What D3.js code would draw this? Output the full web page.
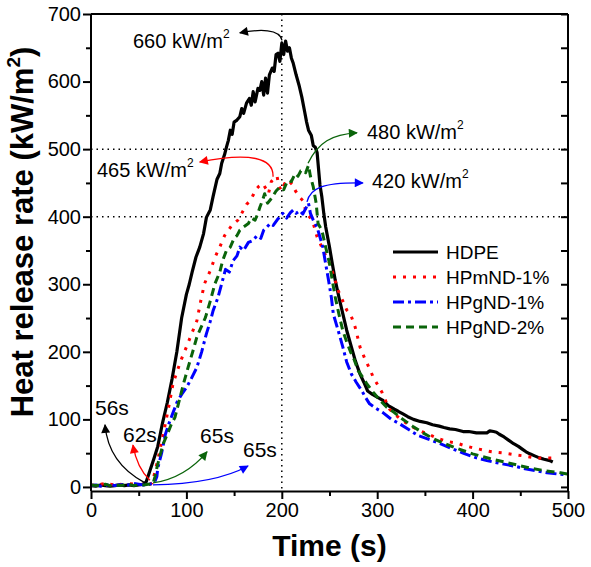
<!DOCTYPE html>
<html><head><meta charset="utf-8">
<script src="https://cdn.jsdelivr.net/npm/d3@7"></script>
<style>body{margin:0;background:#fff}svg{display:block}text{font-family:"Liberation Sans",Arial,sans-serif}</style>
</head><body><svg id="c" width="591" height="567"></svg>
<script>
// ---- data (time s, HRR kW/m2) ----
const hdpe = [[0,2],[5,1],[10,3],[15,2],[20,1],[25,2],[30,3],[35,2],[40,3],[45,2],[50,3],[54,4],[56,5],[58,8],[62,25],[66,42],[70,60],[75,95],[80,125],[85,160],[90,200],[95,250],[100,285],[103,300],[106,318],[110,340],[114,355],[118,375],[121,399],[125,410],[128,430],[132,455],[135,464],[137,479],[140,492],[142,503],[144,513],[146,528],[148,522],[150,540],[153,543],[156,548],[158,560],[160,553],[163,568],[166,575],[168,565],[170,585],[172,570],[175,590],[177,587],[179,600],[181,580],[183,605],[185,583],[187,610],[190,620],[192,615],[194,640],[196,642],[198,630],[200,657],[202,640],[204,660],[206,645],[208,650],[210,635],[212,627],[215,610],[218,595],[221,577],[224,555],[226,540],[228,528],[231,520],[233,505],[235,503],[237,495],[238,479],[240,447],[242,429],[244,405],[246,385],[250,355],[253,330],[256,306],[260,280],[264,256],[268,232],[273,207],[277,187],[282,167],[286,155],[290,142],[295,137],[300,133],[306,128],[312,120],[318,115],[322,112],[327,108],[332,104],[338,100],[345,97],[352,95],[358,92],[365,90],[370,88],[376,86],[382,85],[390,82],[396,82],[404,80],[410,80],[415,80],[418,83],[422,82],[425,81],[428,78],[433,74],[438,69],[443,64],[448,60],[452,56],[456,52],[460,49],[465,46],[470,43],[475,41],[481,39],[484,37]];
const hpmnd1 = [[0,3],[5,2],[10,4],[15,5],[18,6],[20,4],[25,3],[30,4],[35,3],[40,5],[45,4],[50,3],[55,4],[60,5],[62,4],[64,6],[67,22],[70,40],[72,53],[76,80],[80,108],[83,130],[86,153],[90,170],[95,190],[100,207],[105,225],[111,246],[115,275],[119,301],[125,320],[130,340],[135,355],[140,372],[144,380],[148,388],[154,395],[160,410],[163,418],[167,424],[170,432],[172,439],[176,445],[180,449],[184,440],[186,434],[189,452],[193,458],[195,460],[197,445],[200,438],[203,449],[206,445],[210,450],[214,439],[218,430],[222,424],[226,405],[230,398],[233,390],[237,370],[241,358],[245,345],[250,331],[255,310],[259,291],[264,275],[268,262],[272,256],[277,236],[282,207],[287,190],[292,175],[296,162],[301,150],[305,140],[309,127],[313,115],[318,108],[324,101],[330,95],[338,88],[345,83],[355,77],[365,71],[375,67],[383,65],[392,61],[400,58],[410,55],[420,52],[434,50],[443,48],[453,46],[462,44],[469,43],[478,43],[486,43]];
const hpgnd1 = [[0,2],[5,3],[10,1],[15,2],[20,4],[25,2],[30,3],[35,4],[40,3],[45,5],[50,4],[55,3],[60,4],[65,5],[67,8],[69,15],[70,28],[74,50],[78,78],[82,95],[86,110],[90,125],[95,137],[100,147],[105,160],[111,177],[116,200],[121,227],[125,245],[128,261],[133,280],[137,301],[141,322],[145,318],[149,335],[153,342],[156,355],[160,350],[165,362],[170,365],[174,372],[178,368],[181,380],[184,384],[188,390],[191,387],[195,395],[198,400],[201,405],[205,398],[209,406],[212,410],[215,405],[219,409],[222,404],[225,412],[228,420],[230,405],[233,395],[237,384],[240,370],[243,355],[246,330],[249,306],[252,280],[254,256],[259,232],[264,207],[268,185],[273,167],[278,155],[284,142],[288,132],[292,123],[299,116],[306,110],[315,100],[324,93],[333,85],[343,76],[355,70],[366,64],[378,57],[390,50],[404,43],[415,39],[428,35],[443,31],[455,27],[466,24],[478,21],[490,19],[500,18]];
const hpgnd2 = [[0,3],[5,2],[10,3],[15,4],[20,2],[25,3],[30,2],[35,3],[40,4],[45,2],[50,3],[55,3],[60,4],[63,4],[65,5],[67,15],[69,28],[72,45],[76,65],[80,78],[84,92],[88,103],[92,125],[97,153],[102,178],[107,202],[111,222],[115,235],[120,251],[125,275],[130,301],[135,318],[138,335],[142,350],[146,355],[150,368],[153,372],[156,380],[160,385],[165,390],[168,398],[172,395],[175,405],[177,414],[180,425],[182,434],[185,420],[188,425],[190,429],[194,438],[198,444],[202,440],[205,450],[207,454],[210,452],[214,464],[217,460],[220,468],[222,469],[225,465],[228,476],[230,460],[233,444],[236,420],[238,390],[242,380],[246,355],[250,331],[253,305],[256,281],[260,255],[264,231],[268,215],[272,200],[276,188],[280,172],[285,162],[289,153],[296,140],[303,128],[310,118],[318,110],[326,101],[337,90],[348,80],[358,72],[369,65],[384,57],[400,49],[418,42],[436,36],[448,32],[460,28],[476,24],[492,21],[500,19]];

const seriesNames = ["HDPE","HPmND-1%","HPgND-1%","HPgND-2%"];
const seriesData = [hdpe, hpmnd1, hpgnd1, hpgnd2];
const seriesColors = ["#000000","#ff0000","#0000ff","#0a640a"];
const seriesDash = [null,"3,7","11,4,3,4","8,5"];

const xTicks = [0,100,200,300,400,500];
const yTicks = [0,100,200,300,400,500,600,700];
const refY = [400,500];
const refX = [200];

// peak annotations: [label, textT, textV, color, path points (start, c1, c2, end)]
const peakNotes = [
  ["660 kW/m", 44, 650, "#000000", [[200.2,661],[198,678],[177,678],[156,672]]],
  ["465 kW/m", 6.3, 459, "#ff0000", [[190.8,459],[191.8,487],[166.7,496],[114,481]]],
  ["480 kW/m", 289.3, 515, "#0a640a", [[227.5,479],[238,510],[252.6,522],[278.8,524]]],
  ["420 kW/m", 294.5, 442.5, "#0000ff", [[226.4,422],[229.6,442],[242,451],[285,450]]]
];
// ignition annotations: [label, textT, textV, color, start, control, end]
const ignNotes = [
  ["56s", 4.2, 106.6, "#000000", [56.6,6],[18,35],[14.7,92]],
  ["62s", 33.5, 66.6, "#ff0000", [61.8,10],[48.2,28],[44,62]],
  ["65s", 114.3, 65, "#0a640a", [65,6],[98.5,13],[121.6,52]],
  ["65s", 159.3, 44.4, "#0000ff", [65,3],[130,4.4],[164.6,31]]
];

const svg = d3.select("#c");
const L=91, R=568, T=14, B=491;
const x = d3.scaleLinear().domain([0,500]).range([L,R]);
const y = d3.scaleLinear().domain([-6,700]).range([B,T]);

// reference dotted lines
svg.append("g").selectAll("line.h").data(refY).join("line")
  .attr("x1",L).attr("x2",R).attr("y1",d=>y(d)).attr("y2",d=>y(d))
  .attr("stroke","#000").attr("stroke-width",1.5).attr("stroke-dasharray","1.5,4");
svg.append("g").selectAll("line.v").data(refX).join("line")
  .attr("x1",d=>x(d)).attr("x2",d=>x(d)).attr("y1",T).attr("y2",B)
  .attr("stroke","#000").attr("stroke-width",1.5).attr("stroke-dasharray","1.5,4");

// markers
const defs = svg.append("defs");
const cols = Array.from(new Set(seriesColors));
cols.forEach((c,i)=>{
  defs.append("marker").attr("id","ah"+i).attr("viewBox","0 0 10 10").attr("refX",9).attr("refY",5)
    .attr("markerWidth",11).attr("markerHeight",9).attr("markerUnits","userSpaceOnUse").attr("orient","auto")
    .append("path").attr("d","M0,0L10,5L0,10z").attr("fill",c);
});
const mk = c => "url(#ah"+cols.indexOf(c)+")";

// series
const line = d3.line().x(d=>x(d[0])).y(d=>y(d[1]));
seriesData.forEach((d,i)=>{
  svg.append("path").datum(d).attr("d",line).attr("fill","none")
    .attr("stroke",seriesColors[i]).attr("stroke-width",i===0?3.2:3)
    .attr("stroke-linejoin","round")
    .attr("stroke-dasharray",seriesDash[i]);
});

// axes
function styleAxis(g){g.selectAll("path,line").attr("stroke","#000").attr("stroke-width",2);g.selectAll("text").attr("fill","#000").attr("font-family","Liberation Sans, Arial");}
const gL = svg.append("g").attr("transform",`translate(${L},0)`)
  .call(d3.axisLeft(y).tickValues(yTicks).tickSize(8).tickSizeOuter(0).tickPadding(2));
gL.select(".domain").attr("d",`M0,${B}V${T}`);
gL.selectAll("text").attr("font-size",20);
styleAxis(gL);
const gLm = svg.append("g").attr("transform",`translate(${L},0)`)
  .call(d3.axisLeft(y).tickValues(d3.range(50,700,100)).tickSize(5).tickFormat(""));
gLm.select(".domain").remove(); styleAxis(gLm);

const gB = svg.append("g").attr("transform",`translate(0,${B})`)
  .call(d3.axisBottom(x).tickValues(xTicks).tickSize(8).tickSizeOuter(0).tickPadding(4));
gB.selectAll("text").attr("font-size",20);
styleAxis(gB);
const gBm = svg.append("g").attr("transform",`translate(0,${B})`)
  .call(d3.axisBottom(x).tickValues(d3.range(50,500,100)).tickSize(5).tickFormat(""));
gBm.select(".domain").remove(); styleAxis(gBm);

const gR = svg.append("g").attr("transform",`translate(${R},0)`)
  .call(d3.axisLeft(y).tickValues(d3.range(0,701,50)).tickSize(7).tickSizeOuter(0).tickFormat(""));
gR.select(".domain").attr("d",`M0,${B}V${T}`); styleAxis(gR);
svg.append("line").attr("x1",L).attr("x2",R).attr("y1",T).attr("y2",T).attr("stroke","#000").attr("stroke-width",2);

// axis titles
svg.append("text").attr("x",(L+R)/2).attr("y",556).attr("text-anchor","middle")
  .attr("font-size",30).attr("font-weight","bold").text("Time (s)");
const yt = svg.append("text").attr("transform","translate(33,232) rotate(-90)").attr("text-anchor","middle")
  .attr("font-size",31).attr("font-weight","bold");
yt.append("tspan").text("Heat release rate (kW/m");
yt.append("tspan").attr("font-size",19).attr("dy",-13).text("2");
yt.append("tspan").attr("dy",13).text(")");

// peak annotations
peakNotes.forEach(n=>{
  const p = n[4];
  svg.append("path").attr("d",`M${x(p[0][0])},${y(p[0][1])}C${x(p[1][0])},${y(p[1][1])} ${x(p[2][0])},${y(p[2][1])} ${x(p[3][0])},${y(p[3][1])}`)
    .attr("fill","none").attr("stroke",n[3]).attr("stroke-width",1.3).attr("marker-end",mk(n[3]));
  const t = svg.append("text").attr("x",x(n[1])).attr("y",y(n[2])).attr("font-size",20).attr("fill","#000");
  t.append("tspan").text(n[0]);
  t.append("tspan").attr("font-size",12).attr("dy",-10).text("2");
});
// ignition annotations
ignNotes.forEach(n=>{
  svg.append("path").attr("d",`M${x(n[4][0])},${y(n[4][1])}Q${x(n[5][0])},${y(n[5][1])} ${x(n[6][0])},${y(n[6][1])}`)
    .attr("fill","none").attr("stroke",n[3]).attr("stroke-width",1.3).attr("marker-end",mk(n[3]));
  svg.append("text").attr("x",x(n[1])).attr("y",y(n[2])).attr("font-size",21)
    .attr("font-family","Liberation Serif, Times New Roman, serif").attr("fill","#000").text(n[0]);
});

// legend
const lg = svg.append("g");
seriesNames.forEach((nm,i)=>{
  const yy = 252 + i*25;
  lg.append("line").attr("x1",393).attr("x2",438).attr("y1",yy).attr("y2",yy)
    .attr("stroke",seriesColors[i]).attr("stroke-width",3).attr("stroke-dasharray",seriesDash[i]);
  lg.append("text").attr("x",446).attr("y",yy).attr("dy","0.35em").attr("font-size",19).text(nm);
});
</script></body></html>
